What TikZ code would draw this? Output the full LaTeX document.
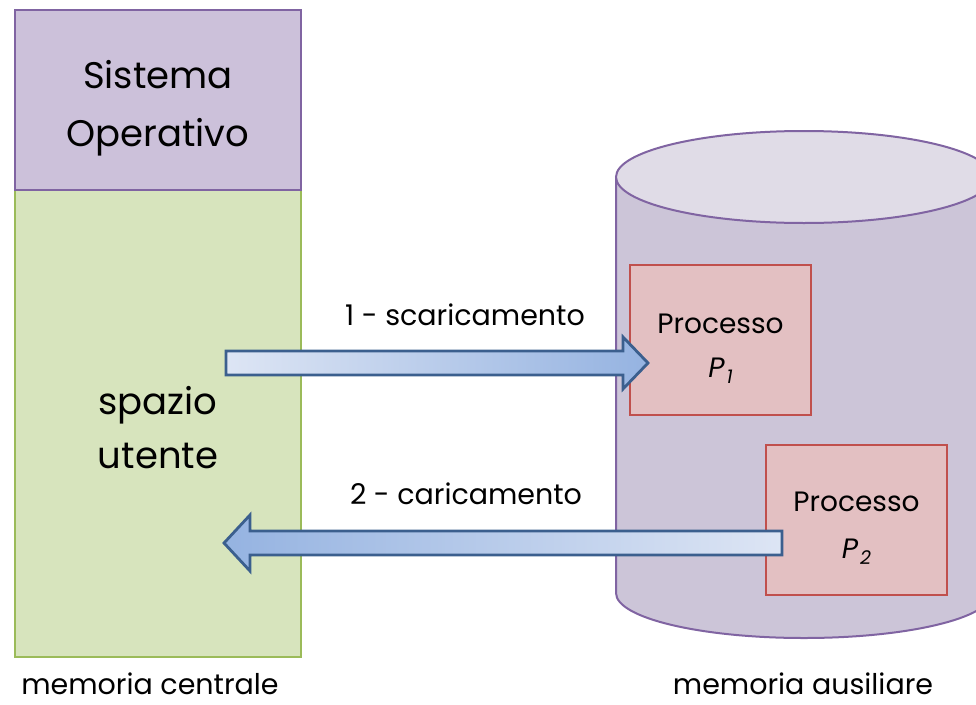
\documentclass[tikz,border=0pt]{standalone}
\usepackage{fontspec}
\setmainfont{Poppins}
\definecolor{osfill}{HTML}{CCC1DA}
\definecolor{osline}{HTML}{8064A2}
\definecolor{usfill}{HTML}{D7E4BD}
\definecolor{usline}{HTML}{9BBB59}
\definecolor{cylbody}{HTML}{CCC5D8}
\definecolor{cyltop}{HTML}{E0DCE7}
\definecolor{prfill}{HTML}{E3C0C2}
\definecolor{prline}{HTML}{C0504D}
\definecolor{arline}{HTML}{3B5F8E}
\definecolor{arlight}{HTML}{DDE5F4}
\definecolor{ardark}{HTML}{95B3E1}
\tikzset{
  osbox/.style={draw=osline, fill=osfill, line width=2pt},
  usbox/.style={draw=usline, fill=usfill, line width=2pt},
  procbox/.style={draw=prline, fill=prfill, line width=2pt, minimum width=181pt, minimum height=150pt, inner sep=0pt},
  blockarrow/.style={draw=arline, line width=2.8pt, line join=miter},
  lbl/.style={font=\fontsize{28.5}{30}\selectfont, inner sep=0pt, anchor=base},
  ptxt/.style={font=\fontsize{28}{30}\selectfont, inner sep=0pt, anchor=base},
  big/.style={font=\fontsize{37}{40}\selectfont, inner sep=0pt, anchor=base}
}
\newcommand{\psub}[1]{\textit{P}\hspace{2pt}\raisebox{-0.45ex}{\fontsize{19}{19}\selectfont\itshape #1}}
\begin{document}
\begin{tikzpicture}[x=1pt,y=-1pt]
\useasboundingbox (0,0) rectangle (976,704);
\clip (0,0) rectangle (976,704);
% central memory
\draw[usbox] (15,190) rectangle (301,657);
\draw[osbox] (15,10) rectangle (301,190);
\node[big] (os1) at (158,88) {Sistema};
\node[big] (os2) at (158,146) {Operativo};
\node[big] (us1) at (158,414) {spazio};
\node[big] (us2) at (158,468) {utente};
% cylinder
\draw[osline, fill=cylbody, line width=2pt] (616,177) -- (616,593) arc[start angle=180, end angle=360, x radius=188pt, y radius=45pt] -- (992,177);
\draw[osline, fill=cyltop, line width=2pt] (804,177) ellipse[x radius=188pt, y radius=46pt];
% processes
\node[procbox] (p1) at (720.5,340) {};
\node[procbox] (p2) at (856.5,520) {};
\node[ptxt] (p1a) at (720.5,333) {Processo};
\node[ptxt] (p1b) at (720.5,377) {\psub{1}};
\node[ptxt] (p2a) at (856.5,511) {Processo};
\node[ptxt] (p2b) at (856.5,558) {\psub{2}};
% arrows
\coordinate (a1s) at (226,363);
\coordinate (a1e) at (648,363);
\coordinate (a2s) at (782,543);
\coordinate (a2e) at (224,543);
\draw[blockarrow, left color=arlight, right color=ardark]
  ([yshift=-12pt]a1s) -- ([xshift=-25pt,yshift=-12pt]a1e) -- ([xshift=-25pt,yshift=-26pt]a1e) -- (a1e)
  -- ([xshift=-25pt,yshift=26pt]a1e) -- ([xshift=-25pt,yshift=12pt]a1e) -- ([yshift=12pt]a1s) -- cycle;
\draw[blockarrow, left color=ardark, right color=arlight]
  ([yshift=-12pt]a2s) -- ([xshift=26pt,yshift=-12pt]a2e) -- ([xshift=26pt,yshift=-28pt]a2e) -- (a2e)
  -- ([xshift=26pt,yshift=28pt]a2e) -- ([xshift=26pt,yshift=12pt]a2e) -- ([yshift=12pt]a2s) -- cycle;
% labels
\node[lbl] (l1) at (465,325) {1 - scaricamento};
\node[lbl] (l2) at (466,504) {2 - caricamento};
\node[lbl] (lc) at (150,694) {memoria centrale};
\node[lbl] (la) at (803,694) {memoria ausiliare};
\end{tikzpicture}
\end{document}
